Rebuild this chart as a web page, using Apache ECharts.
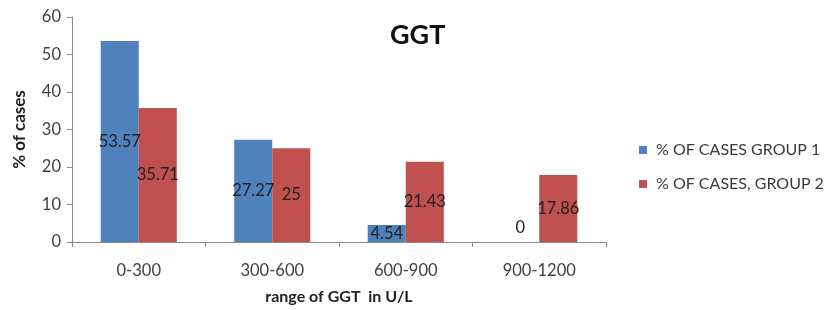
<!DOCTYPE html>
<html>
<head>
<meta charset="utf-8">
<script src="https://cdn.jsdelivr.net/npm/echarts@6/dist/echarts.min.js"></script>
<style>
html,body{margin:0;padding:0;background:#fff;}
#chart{width:831px;height:310px;}
</style>
</head>
<body>
<div id="chart"></div>
<script>
var categories = ['0-300', '300-600', '600-900', '900-1200'];
var group1 = [53.57, 27.27, 4.54, 0];
var group2 = [35.71, 25, 21.43, 17.86];
var seriesNames = ['% OF CASES GROUP 1', '% OF CASES, GROUP 2'];

var fontFamily = 'Lato, "Open Sans", sans-serif';

function toItems(vals){
    return vals.map(function(v){
        if (v === 0) {
            return {value: v, label: {position: 'top', distance: 6}};
        }
        return v;
    });
}

var myChart = echarts.init(document.getElementById('chart'));
var option = {
    animation: false,
    textStyle: {fontFamily: fontFamily},
    title: {
        text: 'GGT',
        left: 385,
        top: 17,
        textStyle: {fontSize: 27, fontWeight: 'bold', color: '#111', fontFamily: fontFamily}
    },
    legend: {
        orient: 'vertical',
        left: 634,
        top: 137,
        itemWidth: 8,
        itemHeight: 8,
        itemGap: 18,
        icon: 'rect',
        textStyle: {fontSize: 16, color: '#3a3a3a', fontFamily: fontFamily, padding: [0, 0, 0, 4]},
        data: seriesNames
    },
    grid: {
        left: 72,
        right: 225,
        top: 17,
        bottom: 66
    },
    xAxis: {
        type: 'category',
        data: categories,
        name: 'range of GGT  in U/L',
        nameLocation: 'middle',
        nameGap: 47,
        nameTextStyle: {fontSize: 16, fontWeight: 'bold', color: '#222'},
        axisLine: {lineStyle: {color: '#8a8a8a'}},
        axisTick: {show: true, length: 5, lineStyle: {color: '#8a8a8a'}},
        axisLabel: {fontSize: 16.5, color: '#404040', margin: 20}
    },
    yAxis: {
        type: 'value',
        min: 0,
        max: 60,
        interval: 10,
        name: '% of cases',
        nameLocation: 'middle',
        nameGap: 44,
        nameTextStyle: {fontSize: 17, fontWeight: 'bold', color: '#222'},
        axisLine: {show: true, lineStyle: {color: '#8a8a8a'}},
        axisTick: {show: true, length: 5, lineStyle: {color: '#8a8a8a'}},
        axisLabel: {fontSize: 16.5, color: '#404040', margin: 11},
        splitLine: {show: false}
    },
    series: [
        {
            name: seriesNames[0],
            type: 'bar',
            data: toItems(group1),
            barGap: '0%',
            barCategoryGap: '43%',
            itemStyle: {color: '#4F81BD'},
            label: {show: true, position: 'inside', fontSize: 16.5, color: '#222', fontFamily: fontFamily}
        },
        {
            name: seriesNames[1],
            type: 'bar',
            data: toItems(group2),
            barGap: '0%',
            barCategoryGap: '43%',
            itemStyle: {color: '#C0504D'},
            label: {show: true, position: 'inside', fontSize: 16.5, color: '#222', fontFamily: fontFamily}
        }
    ]
};
myChart.setOption(option);
</script>
</body>
</html>
